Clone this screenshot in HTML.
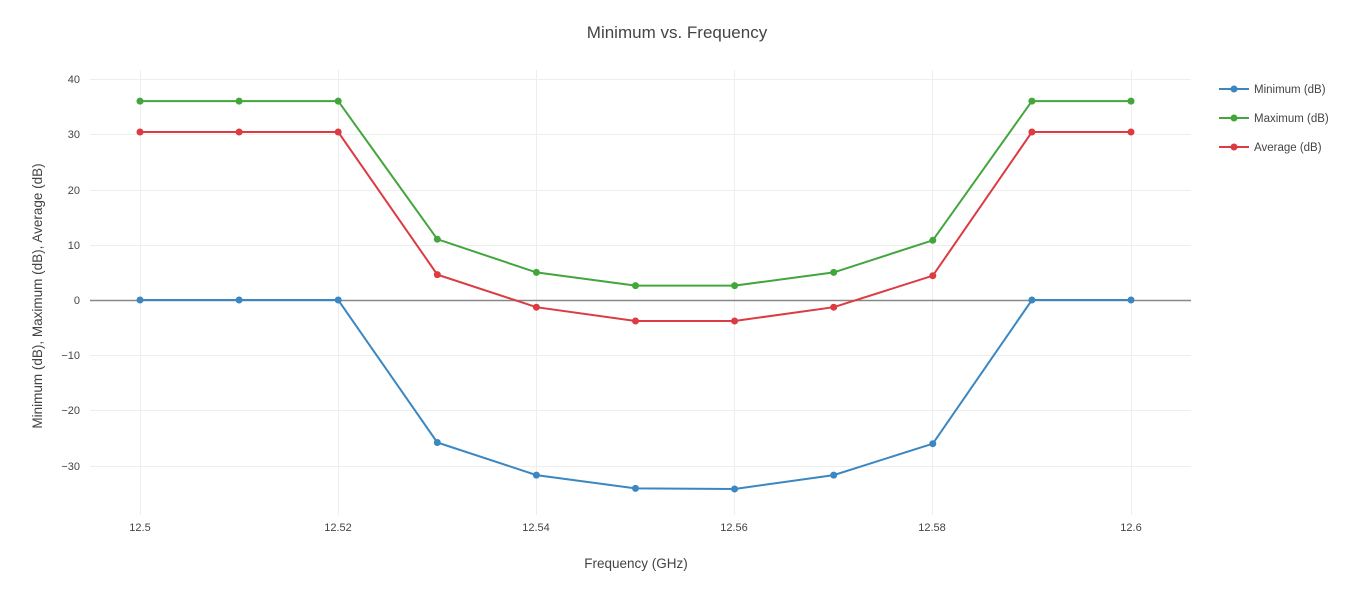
<!DOCTYPE html>
<html><head><meta charset="utf-8"><style>
body{margin:0;background:#fff;}
text{font-family:"Liberation Sans",sans-serif;fill:#444;}
</style></head><body>
<svg width="1354" height="597" xmlns="http://www.w3.org/2000/svg">
<rect width="1354" height="597" fill="#fff"/>
<g stroke="#eee" stroke-width="1">
<line x1="90" x2="1191" y1="79.5" y2="79.5"/><line x1="90" x2="1191" y1="134.5" y2="134.5"/>
<line x1="90" x2="1191" y1="190.5" y2="190.5"/><line x1="90" x2="1191" y1="245.5" y2="245.5"/>
<line x1="90" x2="1191" y1="355.5" y2="355.5"/><line x1="90" x2="1191" y1="410.5" y2="410.5"/>
<line x1="90" x2="1191" y1="466.5" y2="466.5"/>
<line x1="140.5" x2="140.5" y1="70" y2="515"/><line x1="338.5" x2="338.5" y1="70" y2="515"/>
<line x1="536.5" x2="536.5" y1="70" y2="515"/><line x1="734.5" x2="734.5" y1="70" y2="515"/>
<line x1="932.5" x2="932.5" y1="70" y2="515"/><line x1="1131.5" x2="1131.5" y1="70" y2="515"/>
</g>
<line x1="90" x2="1191" y1="300.5" y2="300.5" stroke="#888" stroke-width="1.5"/>
<g font-size="11" text-anchor="end">
<text x="80" y="83">40</text><text x="80" y="138">30</text><text x="80" y="194">20</text><text x="80" y="249">10</text>
<text x="80" y="304">0</text><text x="80" y="359">−10</text><text x="80" y="414">−20</text><text x="80" y="470">−30</text>
</g>
<g font-size="11" text-anchor="middle">
<text x="140" y="531">12.5</text><text x="338" y="531">12.52</text><text x="536" y="531">12.54</text>
<text x="734" y="531">12.56</text><text x="932" y="531">12.58</text><text x="1131" y="531">12.6</text>
</g>
<text x="677" y="38" font-size="17" text-anchor="middle">Minimum vs. Frequency</text>
<text x="636" y="568" font-size="13.5" text-anchor="middle">Frequency (GHz)</text>
<text transform="translate(42,296) rotate(-90)" font-size="13.5" text-anchor="middle">Minimum (dB), Maximum (dB), Average (dB)</text>
<g fill="none" stroke-width="2">
<polyline stroke="#3a87c2" points="140,300 239.1,300 338.2,300 437.3,442.5 536.4,475.1 635.5,488.4 734.6,489 833.7,475.1 932.8,443.7 1031.9,300 1131,300"/>
<polyline stroke="#43a63c" points="140,101.1 239.1,101.1 338.2,101.1 437.3,239.2 536.4,272.4 635.5,285.6 734.6,285.6 833.7,272.4 932.8,240.3 1031.9,101.1 1131,101.1"/>
<polyline stroke="#dc3b42" points="140,132 239.1,132 338.2,132 437.3,274.6 536.4,307.2 635.5,321 734.6,321 833.7,307.2 932.8,275.7 1031.9,132 1131,132"/>
</g>
<g fill="#3a87c2"><circle cx="140" cy="300" r="3.5"/><circle cx="239.1" cy="300" r="3.5"/><circle cx="338.2" cy="300" r="3.5"/><circle cx="437.3" cy="442.5" r="3.5"/><circle cx="536.4" cy="475.1" r="3.5"/><circle cx="635.5" cy="488.4" r="3.5"/><circle cx="734.6" cy="489" r="3.5"/><circle cx="833.7" cy="475.1" r="3.5"/><circle cx="932.8" cy="443.7" r="3.5"/><circle cx="1031.9" cy="300" r="3.5"/><circle cx="1131" cy="300" r="3.5"/></g>
<g fill="#43a63c"><circle cx="140" cy="101.1" r="3.5"/><circle cx="239.1" cy="101.1" r="3.5"/><circle cx="338.2" cy="101.1" r="3.5"/><circle cx="437.3" cy="239.2" r="3.5"/><circle cx="536.4" cy="272.4" r="3.5"/><circle cx="635.5" cy="285.6" r="3.5"/><circle cx="734.6" cy="285.6" r="3.5"/><circle cx="833.7" cy="272.4" r="3.5"/><circle cx="932.8" cy="240.3" r="3.5"/><circle cx="1031.9" cy="101.1" r="3.5"/><circle cx="1131" cy="101.1" r="3.5"/></g>
<g fill="#dc3b42"><circle cx="140" cy="132" r="3.5"/><circle cx="239.1" cy="132" r="3.5"/><circle cx="338.2" cy="132" r="3.5"/><circle cx="437.3" cy="274.6" r="3.5"/><circle cx="536.4" cy="307.2" r="3.5"/><circle cx="635.5" cy="321" r="3.5"/><circle cx="734.6" cy="321" r="3.5"/><circle cx="833.7" cy="307.2" r="3.5"/><circle cx="932.8" cy="275.7" r="3.5"/><circle cx="1031.9" cy="132" r="3.5"/><circle cx="1131" cy="132" r="3.5"/></g>
<g font-size="11.5">
<line x1="1219" x2="1249" y1="89" y2="89" stroke="#3a87c2" stroke-width="2"/><circle cx="1234" cy="89" r="3.5" fill="#3a87c2"/><text x="1254" y="93">Minimum (dB)</text>
<line x1="1219" x2="1249" y1="118" y2="118" stroke="#43a63c" stroke-width="2"/><circle cx="1234" cy="118" r="3.5" fill="#43a63c"/><text x="1254" y="122">Maximum (dB)</text>
<line x1="1219" x2="1249" y1="147" y2="147" stroke="#dc3b42" stroke-width="2"/><circle cx="1234" cy="147" r="3.5" fill="#dc3b42"/><text x="1254" y="151">Average (dB)</text>
</g>
</svg>
</body></html>
